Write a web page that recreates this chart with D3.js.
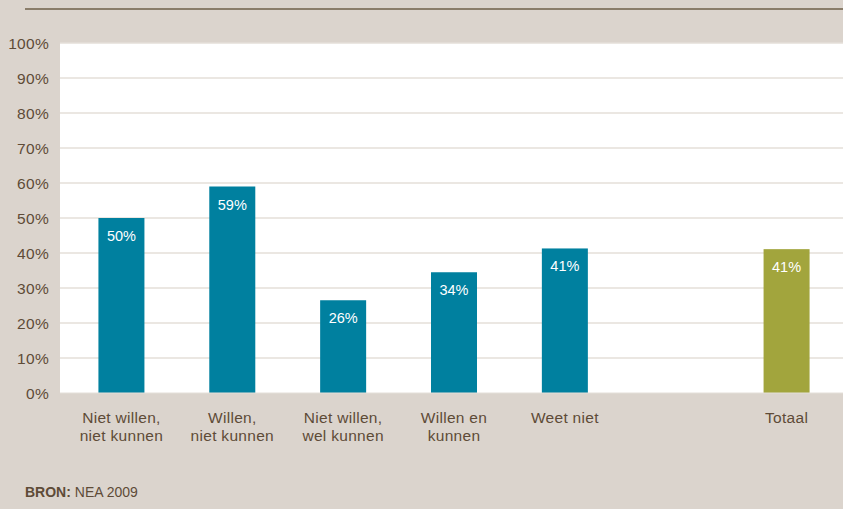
<!DOCTYPE html>
<html><head><meta charset="utf-8">
<script src="https://cdn.jsdelivr.net/npm/d3@7"></script>
<style>html,body{margin:0;padding:0;background:#dbd4cd;}svg{display:block;}</style>
</head><body>
<svg id="chart" width="843" height="509"></svg>
<script>
const categories = [["Niet willen,","niet kunnen"],["Willen,","niet kunnen"],["Niet willen,","wel kunnen"],["Willen en","kunnen"],["Weet niet"],[""],["Totaal"]];
const values = [50, 59, 26.5, 34.5, 41.3, null, 41.1];
const valueLabels = ["50%","59%","26%","34%","41%","","41%"];
const barColors = ["#00809f","#00809f","#00809f","#00809f","#00809f",null,"#a2a53d"];
const yTicks = [0,10,20,30,40,50,60,70,80,90,100];
const source = ["BRON:", " NEA 2009"];

const W = 843, H = 509;
const svg = d3.select("#chart");
const font = "'Liberation Sans', Arial, sans-serif";
const textColor = "#5e4b37";
svg.append("rect").attr("width",W).attr("height",H).attr("fill","#dbd4cd");
svg.append("line").attr("x1",25).attr("x2",W).attr("y1",9).attr("y2",9).attr("stroke","#8a7d6a").attr("stroke-width",2);

const plot = {left:60, right:843, top:43, bottom:393};
svg.append("rect").attr("x",plot.left).attr("y",plot.top).attr("width",plot.right-plot.left).attr("height",plot.bottom-plot.top).attr("fill","#ffffff");

const y = d3.scaleLinear().domain([0,100]).range([plot.bottom, plot.top]);
const idx = categories.map((d,i)=>i);
const x = d3.scaleBand().domain(idx).range([66, 842]).paddingInner(0.585).paddingOuter(0.2925);

// grid
svg.append("g").selectAll("line").data(yTicks.filter(t=>t>0)).join("line")
  .attr("x1",plot.left).attr("x2",plot.right)
  .attr("y1",d=>y(d)).attr("y2",d=>y(d))
  .attr("stroke","#e4dfd9").attr("stroke-width",1.5);

// y axis
const yAxis = d3.axisLeft(y).tickValues(yTicks).tickFormat(d=>d+"%").tickSize(0).tickPadding(0);
const ya = svg.append("g").attr("transform",`translate(${49},0)`).call(yAxis);
ya.select(".domain").remove();
ya.selectAll("text").attr("font-family",font).attr("font-size",15.5).attr("letter-spacing",0.3).attr("fill",textColor).attr("dy","0.35em");

// bars
const data = idx.map(i=>({i, v:values[i], lab:valueLabels[i], c:barColors[i]})).filter(d=>d.v!=null);
svg.append("g").selectAll("rect").data(data).join("rect")
  .attr("x",d=>x(d.i)).attr("width",x.bandwidth())
  .attr("y",d=>y(d.v)).attr("height",d=>plot.bottom-y(d.v))
  .attr("fill",d=>d.c);
svg.append("g").selectAll("text").data(data).join("text")
  .attr("x",d=>x(d.i)+x.bandwidth()/2).attr("y",d=>y(d.v)+23)
  .attr("text-anchor","middle").attr("font-family",font).attr("font-size",14.5)
  .attr("fill","#ffffff").text(d=>d.lab);

// baseline
svg.append("line").attr("x1",plot.left).attr("x2",plot.right).attr("y1",plot.bottom).attr("y2",plot.bottom).attr("stroke","#e4dfd9").attr("stroke-width",1);

// x labels
const xl = svg.append("g").selectAll("text").data(idx).join("text")
  .attr("x",i=>x(i)+x.bandwidth()/2).attr("y",423)
  .attr("text-anchor","middle").attr("font-family",font).attr("font-size",15.5).attr("letter-spacing",0.3).attr("fill",textColor);
xl.selectAll("tspan").data(i=>categories[i].map(l=>({l,i}))).join("tspan")
  .attr("x",d=>x(d.i)+x.bandwidth()/2).attr("dy",(d,k)=>k===0?0:17.5).text(d=>d.l);

// source
const s = svg.append("text").attr("x",25).attr("y",497).attr("font-family",font).attr("font-size",14).attr("fill",textColor);
s.append("tspan").attr("font-weight","bold").text(source[0]);
s.append("tspan").text(source[1]);
</script>
</body></html>
